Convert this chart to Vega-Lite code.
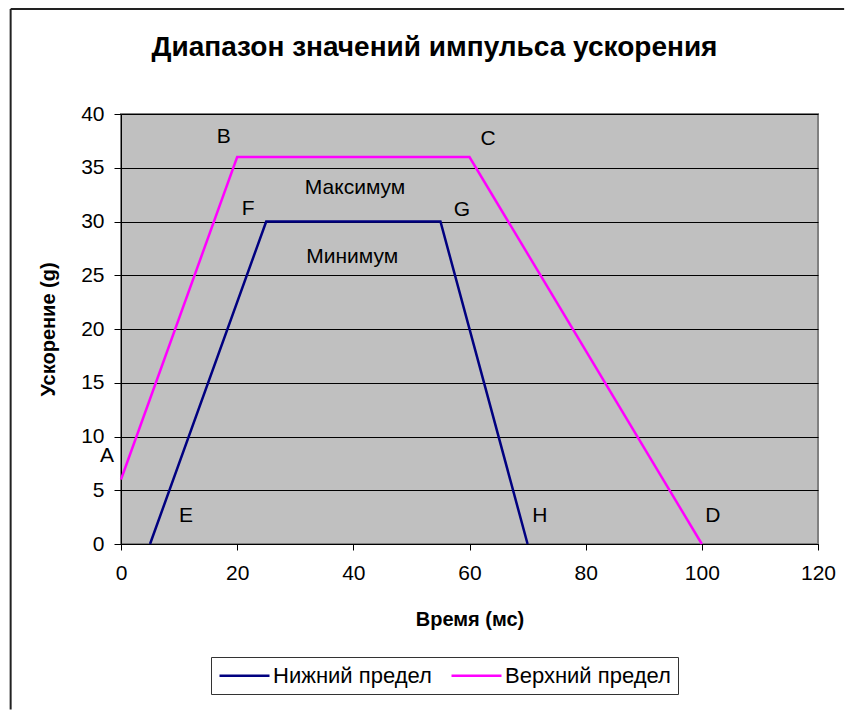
{
  "$schema": "https://vega.github.io/schema/vega-lite/v6.json",
  "autosize": {"type": "none"},
  "width": 697,
  "height": 430,
  "padding": {"left": 121, "top": 114, "right": 27, "bottom": 167},
  "background": "white",
  "config": {
    "font": "Liberation Sans",
    "view": {"fill": "#C0C0C0", "stroke": "#808080", "strokeWidth": 2},
    "axis": {"labelFont": "Liberation Sans", "titleFont": "Liberation Sans", "labelColor": "black", "titleColor": "black", "domainColor": "black", "tickColor": "black", "labelFontSize": 21, "titleFontSize": 20, "titleFontWeight": "bold", "labelFlush": false}
  },
  "title": {"text": "Диапазон значений импульса ускорения", "font": "Liberation Sans", "fontSize": 28, "fontWeight": "bold", "color": "black", "anchor": "middle", "dx": -35, "offset": -54},
  "datasets": {
    "lines": [
      {"t": 5, "a": 0, "s": "Нижний предел", "o": 1},
      {"t": 25, "a": 30, "s": "Нижний предел", "o": 2},
      {"t": 55, "a": 30, "s": "Нижний предел", "o": 3},
      {"t": 70, "a": 0, "s": "Нижний предел", "o": 4},
      {"t": 0, "a": 6, "s": "Верхний предел", "o": 1},
      {"t": 20, "a": 36, "s": "Верхний предел", "o": 2},
      {"t": 60, "a": 36, "s": "Верхний предел", "o": 3},
      {"t": 100, "a": 0, "s": "Верхний предел", "o": 4}
    ],
    "labels": [
      {"t": -2.4, "a": 8.2, "txt": "A"},
      {"t": 17.7, "a": 37.9, "txt": "B"},
      {"t": 63.2, "a": 37.7, "txt": "C"},
      {"t": 101.9, "a": 2.6, "txt": "D"},
      {"t": 11.2, "a": 2.6, "txt": "E"},
      {"t": 21.9, "a": 31.2, "txt": "F"},
      {"t": 58.7, "a": 31.1, "txt": "G"},
      {"t": 72.1, "a": 2.6, "txt": "H"},
      {"t": 40.3, "a": 33.1, "txt": "Максимум"},
      {"t": 39.8, "a": 26.7, "txt": "Минимум"}
    ],
    "frame": [
      {"x1": -19.0, "x2": -19.0, "y1": 49.77, "y2": -15.4},
      {"x1": -19.0, "x2": 124.5, "y1": 49.77, "y2": 49.77}
    ]
  },
  "layer": [
    {
      "data": {"name": "frame"},
      "mark": {"type": "rule", "stroke": "#222222", "strokeWidth": 2},
      "encoding": {
        "x": {"field": "x1", "type": "quantitative"},
        "x2": {"field": "x2"},
        "y": {"field": "y1", "type": "quantitative"},
        "y2": {"field": "y2"}
      }
    },
    {
      "data": {"name": "lines"},
      "mark": {"type": "line", "strokeWidth": 2.5},
      "encoding": {
        "x": {"field": "t", "type": "quantitative", "scale": {"domain": [0, 120], "nice": false},
          "axis": {"title": "Время (мс)", "values": [0, 20, 40, 60, 80, 100, 120], "grid": false, "tickSize": 6, "labelPadding": 12, "titlePadding": 26}},
        "y": {"field": "a", "type": "quantitative", "scale": {"domain": [0, 40], "nice": false},
          "axis": {"title": "Ускорение (g)", "values": [0, 5, 10, 15, 20, 25, 30, 35, 40], "grid": true, "gridColor": "black", "gridOpacity": 1, "tickSize": 7, "labelPadding": 10, "titlePadding": 22}},
        "color": {"field": "s", "type": "nominal", "scale": {"domain": ["Нижний предел", "Верхний предел"], "range": ["#000080", "#FF00FF"]},
          "legend": {"title": null, "orient": "none", "legendX": 90, "legendY": 543, "direction": "horizontal", "strokeColor": "#333333", "fillColor": "white", "padding": 7, "symbolType": "M-2.5,0H2.5", "symbolSize": 400, "symbolOffset": 15, "symbolStrokeWidth": 2.5, "labelFontSize": 22, "labelFont": "Liberation Sans", "labelColor": "black", "labelLimit": 400, "columnPadding": 14, "labelOffset": 17}},
        "order": {"field": "o", "type": "quantitative"}
      }
    },
    {
      "data": {"name": "labels"},
      "mark": {"type": "text", "fontSize": 21, "font": "Liberation Sans", "color": "black", "align": "center", "baseline": "middle"},
      "encoding": {
        "x": {"field": "t", "type": "quantitative"},
        "y": {"field": "a", "type": "quantitative"},
        "text": {"field": "txt"}
      }
    }
  ]
}
